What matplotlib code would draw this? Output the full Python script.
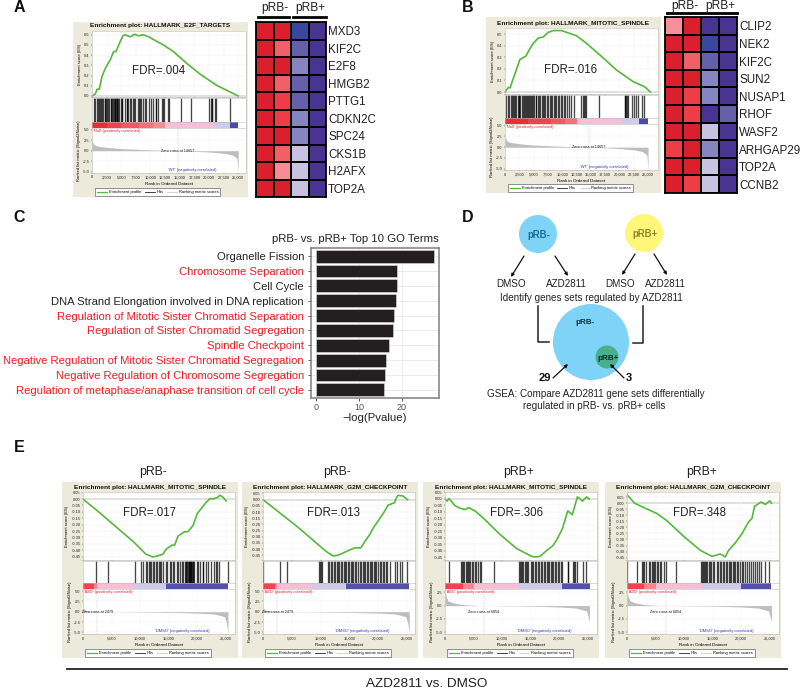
import matplotlib
matplotlib.use('Agg')
import matplotlib.pyplot as plt
from matplotlib.colors import LinearSegmentedColormap
from matplotlib.lines import Line2D
from matplotlib.patches import Circle
import numpy as np

plt.rcParams['font.family'] = ['Liberation Sans', 'DejaVu Sans']

W, H = 800, 692

# heat maps
a_genes = ['MXD3', 'KIF2C', 'E2F8', 'HMGB2', 'PTTG1', 'CDKN2C', 'SPC24', 'CKS1B', 'H2AFX', 'TOP2A']
a_heat = [[1, 1, -1, -.9], [1, .6, -.7, -.9], [1, 1, -.45, -.9], [1, .6, -.7, -.9], [1, .8, -.7, -.9],
          [1, .8, -.45, -.9], [1, 1, -.45, -.9], [1, .6, -.2, -.9], [1, .45, -.2, -.9], [1, 1, -.2, -.9]]
b_genes = ['CLIP2', 'NEK2', 'KIF2C', 'SUN2', 'NUSAP1', 'RHOF', 'WASF2', 'ARHGAP29', 'TOP2A', 'CCNB2']
b_heat = [[.4, 1, -.9, -.9], [1, 1, -1, -.9], [1, .6, -.7, -.9], [1, 1, -.45, -.9], [1, .8, -.45, -.9],
          [1, .8, -.9, -.7], [1, 1, -.2, -.9], [.8, 1, -.45, -.9], [1, 1, -.2, -.9], [1, .8, -.2, -.9]]

# GO terms
go_terms = ['Organelle Fission', 'Chromosome Separation', 'Cell Cycle',
            'DNA Strand Elongation involved in DNA replication',
            'Regulation of Mitotic Sister Chromatid Separation',
            'Regulation of Sister Chromatid Segregation', 'Spindle Checkpoint',
            'Negative Regulation of Mitotic Sister Chromatid Segregation',
            'Negative Regulation of Chromosome Segregation',
            'Regulation of metaphase/anaphase transition of cell cycle']
go_values = [27.4, 18.9, 18.8, 18.5, 18.1, 17.8, 17.0, 16.3, 16.0, 15.8]
go_red = [False, True, False, False, True, True, True, True, True, True]

# enrichment curves
a_rank = [0, 570, 850, 1250, 1700, 2270, 3125, 3700, 4090, 4720, 5280, 5680, 6530, 7270, 7950, 8800, 9660,
          11080, 12220, 13920, 16200, 18470, 21300, 25000]
a_es = [0, .02, .066, .066, .19, .27, .355, .435, .435, .52, .59, .6, .58, .605, .59, .6, .58,
        .535, .5, .435, .32, .215, .105, 0]
b_rank = [0, 600, 870, 1750, 2600, 3660, 4240, 4940, 5810, 6690, 7560, 8430, 9880, 10750, 12500, 14240,
          16570, 19480, 22380, 24420, 25400]
b_es = [0, .04, .035, .16, .28, .31, .365, .42, .465, .475, .515, .53, .53, .515, .485, .42,
        .32, .19, .09, .045, 0]
e1_rank = [0, 3000, 6000, 9000, 11000, 12200, 13000, 14000, 14600, 15600, 16050, 16650, 17800, 18400,
           19300, 20000, 20700, 21600, 22300, 22800, 23650, 24000, 24500, 25100]
e1_es = [0, -.11, -.225, -.34, -.43, -.452, -.445, -.43, -.39, -.36, -.36, -.29, -.255, -.255,
         -.205, -.115, -.075, -.025, .005, 0, .015, .03, .015, -.015]
e2_rank = [0, 3000, 6000, 9000, 11000, 12150, 13000, 14000, 14900, 15900, 17000, 17800, 18500, 19200,
           20100, 21100, 21700, 22800, 23400, 24300, 25100]
e2_es = [0, -.11, -.22, -.34, -.42, -.455, -.45, -.43, -.41, -.39, -.39, -.33, -.285, -.225,
         -.165, -.095, -.045, -.025, .035, .03, 0]
e3_rank = [0, 350, 700, 1750, 2600, 3600, 4100, 5250, 6700, 9600, 12550, 15200, 15800, 16650, 17800, 18850,
           19550, 20550, 21500, 22300, 23200, 24100, 24800, 25300]
e3_es = [-.005, -.02, 0, -.055, -.075, -.085, -.07, -.095, -.15, -.275, -.385, -.445, -.45, -.445, -.4, -.365,
         -.32, -.235, -.095, -.125, .0125, -.02, .0125, -.005]
e4_rank = [0, 1350, 2900, 5250, 7000, 9950, 12850, 14900, 16350, 17200, 17800, 18950, 20150, 21300, 21900,
           22350, 23500, 24250, 25000, 25300]
e4_es = [.07, 0, -.035, -.085, -.145, -.275, -.39, -.44, -.42, -.445, -.39, -.33, -.25, -.155, -.125,
         -.025, .01, -.01, .02, 0]

# gene set hits
a_hits = [300, 550, 800, 1050, 1150, 1400, 1600, 1750, 1900, 2150, 2300, 2450, 2600, 2750, 2850, 3200, 3300, 3450,
          3600, 3750, 3850, 4000, 4100, 4250, 4350, 4500, 4650, 4900, 5100, 5200, 5600, 5900, 6050, 6200, 6500, 6700,
          7000, 7200, 7300, 7800, 8000, 8200, 8450, 8700, 9000, 9200, 9800, 10100, 10500, 10900, 11000, 11300, 12000,
          12200, 12350, 13000, 13200, 15300, 17000, 20000, 20300, 20500, 20600, 21000, 21150, 23600]
b_hits = [250, 550, 750, 1000, 1200, 1350, 1600, 1800, 2000, 2200, 2450, 2500, 2700, 2950, 3100, 3300, 3500, 3650,
          3800, 4000, 4250, 4400, 4500, 4700, 4900, 5100, 5350, 5500, 5700, 5950, 6100, 6400, 6600, 6800, 7000, 7300,
          7500, 7800, 8000, 8200, 8500, 8700, 9000, 9200, 9500, 9800, 10000, 10300, 10500, 10800, 11200, 11500, 12000,
          13300, 13600, 13800, 14000, 14200, 16450, 20900, 21000, 21200, 21350, 21500, 22200, 22600, 22900, 23300,
          24000, 24300]
e1_hits = [2300, 4400, 9100, 10200, 10500, 11000, 11300, 11500, 11800, 12000, 12300, 12500, 12800, 13000, 13300,
           13500, 13700, 14000, 14500, 14800, 15300, 15500, 15800, 16000, 16400, 16700, 17000, 17300, 17500, 17800,
           18000, 18100, 18300, 18400, 18500, 18600, 18700, 18800, 18900, 19000, 19100, 19200, 19300, 19500, 20000,
           20200, 20500, 21000, 21100, 21500, 21900, 22500, 22900, 23300, 23500, 23800, 25400]
e2_hits = [50, 2950, 4150, 9800, 9950, 10100, 10250, 11300, 11500, 11800, 12000, 12300, 12500, 12800, 13000, 13200,
           13500, 13800, 14000, 14200, 14500, 14700, 15000, 15300, 15500, 15700, 16000, 16200, 16500, 16800, 17000,
           17300, 17500, 17700, 18000, 18200, 18500, 18700, 19000, 19200, 19500, 19700, 20000, 20300, 20500, 20800,
           21000, 21300, 21500, 22000, 23000, 23200, 23800, 24200, 25000]
e3_hits = [700, 2800, 2950, 3100, 3300, 3700, 3800, 4000, 4200, 4400, 4700, 4900, 5200, 5500, 5700, 6100, 6300, 8650,
           13050, 13150, 13300, 13500, 13700, 14000, 14200, 14400, 14600, 15000, 15200, 15500, 15700, 16000, 16300,
           16500, 16800, 17000, 17300, 17600, 17800, 18000, 18300, 18500, 18700, 19000, 19200, 19500, 19800, 20000,
           20300, 20500, 21500, 21600, 22400, 22600, 22800, 23100, 24200, 24700]
e4_hits = [50, 1750, 2600, 2750, 3000, 3300, 3800, 4100, 4300, 4500, 4700, 4900, 5200, 5500, 5700, 6000, 6500, 6900,
           8600, 13000, 13100, 13300, 13500, 13600, 13800, 14000, 14300, 14500, 14700, 15000, 15300, 15700, 16000,
           16300, 16500, 16800, 17000, 17300, 17500, 17800, 18000, 18200, 18500, 18800, 19000, 19300, 19500, 19800,
           20200, 20400, 20700, 21000, 21300, 21800, 22100, 22500, 22800, 23100, 23400, 24100, 24800]

# correlation band: right end of each segment
a_band = [2500, 5000, 8000, 10500, 12500, 20700, 23600, 25000]
a_band_c = ['#E5303A', '#EA444D', '#EE5962', '#F1727B', '#F48C94', '#F6BFD6', '#CFCBE6', '#4A4BA5']
b_band = [4000, 8000, 10500, 12500, 20500, 23500, 25000]
b_band_c = ['#E5303A', '#EA444D', '#EE5962', '#F1727B', '#F6BFD6', '#CFCBE6', '#4A4BA5']
e1_band = [2000, 2400, 8700, 14500, 25400]
e2_band = [2000, 2400, 8500, 14500, 25400]
e3_band = [3200, 5000, 13000, 20500, 25400]
e4_band = [3000, 5000, 13000, 20000, 25300]
e_band_c = ['#EE4450', '#F6858E', '#F6BFD6', '#CFCBE6', '#5551A8']

# ranked list metric
a_metric_x = [0, 200, 500, 1000, 2500, 5000, 7500, 10000, 12500, 14657, 17500, 20000, 22500, 24000, 24800, 25000]
a_metric_y = [2.6, 1.7, 1.3, 1.1, .8, .5, .35, .2, .1, 0, -.15, -.3, -.6, -1, -1.8, -5]
e_low_x = [0, 500, 1500, 2479, 8500, 12000, 16000, 20000, 23000, 24800, 25100, 25400]
e_low_y = [.9, .3, .1, 0, -.06, -.12, -.2, -.33, -.55, -1.2, -2.5, -5]
e_high_x = [0, 500, 1500, 3000, 5000, 6854, 10000, 15000, 20000, 23000, 24800, 25300]
e_high_y = [2.4, .9, .5, .2, .05, 0, -.03, -.1, -.25, -.45, -1, -3]

es_ticks_a = [0, .1, .2, .3, .4, .5, .6]
es_ticks_b = [0, .1, .2, .3, .4, .5]
es_ticks_e = [.05, 0, -.05, -.1, -.15, -.2, -.25, -.3, -.35, -.4, -.45]

BEIGE = '#ECEADB'
GREEN = '#55B83A'
fig = plt.figure(figsize=(W / 100, H / 100), dpi=100, facecolor='white')


def px_axes(x0, y0, x1, y1, **kw):
    return fig.add_axes([x0 / W, 1 - y1 / H, (x1 - x0) / W, (y1 - y0) / H], **kw)


def style_small(ax):
    ax.tick_params(labelsize=2.9, length=1, width=.3, pad=.8, colors='#222222')
    for s in ax.spines.values():
        s.set_linewidth(.4)
        s.set_color('#bbbbbb')


def gsea(box, plot, title, rank, es, es_lim, es_ticks, es_fmt, hits, band, band_c, mx, my, m_lim, m_ticks,
         zero, zero_y, pos_name, neg_name, xmax, xticks):
    x0, y0, x1, y1 = box
    left, right, t1, t2, t3, t4, t5 = plot
    bg = px_axes(x0, y0, x1, y1)
    bg.set_facecolor(BEIGE)
    bg.set_xticks([])
    bg.set_yticks([])
    for s in bg.spines.values():
        s.set_visible(False)
    fig.text((x0 + x1) / 2 / W, 1 - (t1 - 5) / H, title, ha='center', va='center', fontsize=4.65, fontweight='bold',
             color='#111111')

    ax = px_axes(left, t1, right, t2)
    ax.plot(rank, es, color=GREEN, lw=1.2)
    ax.axhline(0, color='#d5d5d5', lw=1.2, zorder=0)
    ax.set_xlim(0, xmax)
    ax.set_ylim(*es_lim)
    ax.set_yticks(es_ticks)
    ax.set_yticklabels([es_fmt.format(v) for v in es_ticks])
    ax.set_xticks(xticks)
    ax.tick_params(axis='x', length=0, labelbottom=False)
    ax.grid(color='#f0f0f0', lw=.3)
    ax.set_axisbelow(True)
    style_small(ax)
    ax.set_ylabel('Enrichment score (ES)', fontsize=3, labelpad=1.5)

    hx = px_axes(left, t2 + 1, right, t3)
    hx.vlines(hits, 0, 1, color='black', lw=.95, alpha=.72)
    hx.set_xlim(0, xmax)
    hx.set_ylim(0, 1)
    hx.set_xticks([])
    hx.set_yticks([])
    style_small(hx)

    bd = px_axes(left, t3, right, t4)
    start = 0
    for end, c in zip(band, band_c):
        bd.axvspan(start, end, color=c, lw=0)
        start = end
    bd.set_xlim(0, xmax)
    bd.set_ylim(0, 1)
    bd.set_xticks([])
    bd.set_yticks([])
    style_small(bd)

    rx = px_axes(left, t4, right, t5)
    rx.fill_between(mx, my, 0, color='#bdbdbd', lw=0)
    rx.axvline(zero, color='#aaaaaa', lw=.35, ls=(0, (2, 2)), ymax=.98)
    rx.set_xlim(0, xmax)
    rx.set_ylim(*m_lim)
    rx.set_yticks(m_ticks)
    rx.set_yticklabels(['{:.1f}'.format(v) for v in m_ticks])
    rx.set_xticks(xticks)
    rx.set_xticklabels(['{:,}'.format(v) for v in xticks])
    rx.grid(color='#f4f4f4', lw=.3)
    rx.set_axisbelow(True)
    style_small(rx)
    rx.set_xlabel('Rank in Ordered Dataset', fontsize=3.2, labelpad=1.5)
    rx.set_ylabel('Ranked list metric (Signal2Noise)', fontsize=3, labelpad=1.5)
    rx.text(xmax * .005, m_lim[1] - (m_lim[1] - m_lim[0]) * .015, "'%s' (positively correlated)" % pos_name,
            color='#e8202a', fontsize=2.9, va='top')
    rx.text(xmax * .65, m_lim[0] + (m_lim[1] - m_lim[0]) * .02, "'%s' (negatively correlated)" % neg_name,
            color='#3333bb', fontsize=2.9, va='bottom', ha='center')
    rx.text(zero, zero_y, 'Zero cross at %d' % zero, fontsize=2.7, ha='center', va='center', color='#111111')

    leg = fig.legend(handles=[Line2D([], [], color=GREEN, lw=.9, label='Enrichment profile'),
                              Line2D([], [], color='#222222', lw=.6, label='Hits'),
                              Line2D([], [], color='#cccccc', lw=.6, label='Ranking metric scores')],
                     loc='center', bbox_to_anchor=(((left + right) / 2 - 11) / W, 1 - (y1 - 5) / H), ncol=3,
                     fontsize=2.9, frameon=True, fancybox=False, edgecolor='#666666', facecolor='white',
                     framealpha=1, handlelength=2.5, columnspacing=.9, handletextpad=.4, borderpad=.5)
    leg.get_frame().set_linewidth(.5)
    return ax


def heat(box, values, genes):
    cmap = LinearSegmentedColormap.from_list('rb', [(0, '#3B479F'), (.05, '#4A3391'), (.15, '#6460AC'),
                                                    (.275, '#8585C1'), (.4, '#C8C2E1'), (.72, '#F98E98'),
                                                    (.8, '#F25F68'), (.9, '#EF3E48'), (1, '#DB1F2D')])
    ax = px_axes(*box)
    ax.pcolormesh(np.array(values), cmap=cmap, vmin=-1, vmax=1, edgecolors='black', linewidth=1.1)
    ax.invert_yaxis()
    ax.set_xticks([])
    ax.yaxis.tick_right()
    ax.set_yticks(np.arange(len(genes)) + .5)
    ax.set_yticklabels(genes, fontsize=8.4, color='#222222')
    ax.tick_params(axis='y', length=0, pad=1.5)
    for s in ax.spines.values():
        s.set_linewidth(1.3)
    return ax


# A
gsea((73, 22, 248, 197), (92, 245.5, 31, 97, 122, 128, 173), 'Enrichment plot: HALLMARK_E2F_TARGETS',
     a_rank, a_es, (-.01, .637), es_ticks_a, '{:.1f}', a_hits, a_band, a_band_c, a_metric_x, a_metric_y,
     (-5.3, 5.4), [5, 2.5, 0, -2.5, -5], 14657, 0, 'Null', 'WT', 26250, list(range(0, 25001, 2500)))
heat((256, 22, 326, 197), a_heat, a_genes)

# B
gsea((486, 17, 661, 193), (505, 658, 28, 94, 118, 124, 170), 'Enrichment plot: HALLMARK_MITOTIC_SPINDLE',
     b_rank, b_es, (-.017, .552), es_ticks_b, '{:.1f}', b_hits, b_band, b_band_c, a_metric_x, a_metric_y,
     (-5.3, 5.4), [5, 2.5, 0, -2.5, -5], 14657, 0, 'Null', 'WT', 26740, list(range(0, 25001, 2500)))
heat((665, 17, 737, 193), b_heat, b_genes)

# E
etick = list(range(0, 25001, 5000))
gsea((62, 482, 238, 658), (83, 235, 492, 560, 583, 589, 634), 'Enrichment plot: HALLMARK_MITOTIC_SPINDLE',
     e1_rank, e1_es, (-.476, .055), es_ticks_e, '{:.2f}', e1_hits, e1_band, e_band_c, e_low_x, e_low_y,
     (-5.4, 5.5), [5, 2.5, 0, -2.5, -5], 2479, 0, 'AZD', 'DMSO', 26630, etick)
gsea((242, 482, 418, 658), (263, 415, 492, 560, 583, 589, 634), 'Enrichment plot: HALLMARK_G2M_CHECKPOINT',
     e2_rank, e2_es, (-.488, .062), es_ticks_e, '{:.2f}', e2_hits, e2_band, e_band_c, e_low_x, e_low_y,
     (-5.4, 5.5), [5, 2.5, 0, -2.5, -5], 2479, 0, 'AZD', 'DMSO', 26400, etick)
gsea((423, 482, 599, 658), (445, 597, 492, 560, 583, 589, 634), 'Enrichment plot: HALLMARK_MITOTIC_SPINDLE',
     e3_rank, e3_es, (-.473, .045), es_ticks_e, '{:.2f}', e3_hits, e3_band, e_band_c, e_high_x, e_high_y,
     (-5.3, 3.1), [2.5, 0, -2.5, -5], 6854, -1.15, 'AZD', 'DMSO', 26630, etick)
gsea((605, 482, 781, 658), (627, 779, 492, 560, 583, 589, 634), 'Enrichment plot: HALLMARK_G2M_CHECKPOINT',
     e4_rank, e4_es, (-.47, .093), es_ticks_e, '{:.2f}', e4_hits, e4_band, e_band_c, e_high_x, e_high_y,
     (-5.3, 3.1), [2.5, 0, -2.5, -5], 6854, -1.15, 'AZD', 'DMSO', 26630, etick)

# C
ax = px_axes(311, 248, 439, 398)
pos = np.arange(len(go_terms))
ax.barh(pos, go_values, height=.86, color='#231F20', edgecolor='#dddddd', linewidth=.4, zorder=3)
ax.set_ylim(9.55, -.55)
ax.set_xlim(-1.16, 28.6)
ax.set_yticks(pos)
ax.set_yticklabels(go_terms, fontsize=8.1)
for lab, red in zip(ax.get_yticklabels(), go_red):
    lab.set_color('#ED1C24' if red else '#222222')
ax.set_xticks([0, 10, 20])
ax.tick_params(axis='y', length=2, width=.7, color='#555555', pad=3)
ax.tick_params(axis='x', length=2, width=.7, color='#555555', labelsize=6.5, labelcolor='#555555', pad=1.5)
ax.grid(color='#ebebeb', lw=.7, zorder=0)
for s in ax.spines.values():
    s.set_linewidth(1.1)
    s.set_color('#7f7f7f')
ax.set_xlabel('\u2212log(Pvalue)', fontsize=8.2, color='#222222', labelpad=1)

# overlay for labels and panel D, in reference pixels
ov = fig.add_axes([0, 0, 1, 1], facecolor='none')
ov.set_xlim(0, W)
ov.set_ylim(H, 0)
ov.axis('off')

ov.text(439, 239, 'pRB- vs. pRB+ Top 10 GO Terms', fontsize=8.2, ha='right', va='center', color='#222222')

for x, y, s in [(19, 7, 'A'), (468, 7, 'B'), (19, 218, 'C'), (468, 218, 'D'), (19, 448, 'E')]:
    ov.text(x, y, s, fontsize=11.5, fontweight='bold', ha='center', va='center', color='#111111')

# heat map headers
for x, y, s in [(275, 8, 'pRB-'), (310, 8, 'pRB+'), (685, 6, 'pRB-'), (720, 6, 'pRB+')]:
    ov.text(x, y, s, fontsize=8.6, ha='center', va='center', color='#222222')
for xa, xb, y in [(258, 289, 17), (293, 326, 17), (667, 700, 13), (702, 737, 13)]:
    ov.plot([xa, xb], [y, y], color='black', lw=2)

# FDR labels
for x, y, s in [(159, 71, '.004'), (571, 70, '.016'), (150, 513, '.017'), (333, 513, '.013'),
                (517, 513, '.306'), (699, 513, '.348')]:
    ov.text(x, y, 'FDR=' + s, fontsize=8.3, ha='center', va='center', color='#222222')

# E headers and rule
for x, s in [(153, 'pRB-'), (337, 'pRB-'), (519, 'pRB+'), (702, 'pRB+')]:
    ov.text(x, 472, s, fontsize=8.8, ha='center', va='center', color='#222222')
ov.plot([67, 787], [669, 669], color='#222222', lw=1.3)
ov.text(427, 684, 'AZD2811 vs. DMSO', fontsize=9.7, ha='center', va='center', color='#222222')

# D
for xy, r, c in [((538, 234), 19, '#7FD3F7'), ((644, 233), 19, '#FFF67A'), ((591, 342), 38, '#7FD3F7'),
                 ((607, 357), 11.5, '#46B08F')]:
    ov.add_patch(Circle(xy, r, color=c, lw=0))
ov.text(539, 235, 'pRB-', fontsize=6.9, fontweight='bold', ha='center', va='center', color='#1B6F92')
ov.text(645, 234, 'pRB+', fontsize=6.9, fontweight='bold', ha='center', va='center', color='#8C8A1E')
ov.text(585, 323, 'pRB-', fontsize=5.9, fontweight='bold', ha='center', va='center', color='#10303f')
ov.text(608, 358, 'pRB+', fontsize=5.9, fontweight='bold', ha='center', va='center', color='#0c2a20')
for a, b in [((524, 256), (511, 277)), ((555, 256), (568, 276)), ((635, 254), (622, 275)), ((654, 254), (667, 275)),
             ((553, 378), (568, 364)), ((624, 378), (610, 364))]:
    ov.annotate('', xy=b, xytext=a, arrowprops=dict(arrowstyle='-|>', color='#111111', lw=.9, mutation_scale=4.5,
                                                    shrinkA=0, shrinkB=0))
for x, y, s in [(511, 284, 'DMSO'), (566, 284, 'AZD2811'), (620, 284, 'DMSO'), (665, 284, 'AZD2811')]:
    ov.text(x, y, s, fontsize=7.1, ha='center', va='center', color='#222222')
ov.text(591, 298, 'Identify genes sets regulated by AZD2811', fontsize=7.1, ha='center', va='center', color='#222222')
ov.plot([538, 538, 549], [306, 342, 342], color='#222222', lw=1.1)
ov.plot([643, 643, 633], [306, 343, 343], color='#222222', lw=1.1)
ov.text(545, 378, '29', fontsize=8, fontweight='bold', ha='center', va='center', color='#111111')
ov.text(629, 378, '3', fontsize=8, fontweight='bold', ha='center', va='center', color='#111111')
ov.text(596, 394, 'GSEA: Compare AZD2811 gene sets differentially', fontsize=7.1, ha='center', va='center',
        color='#222222')
ov.text(594, 406, 'regulated in pRB- vs. pRB+ cells', fontsize=7.1, ha='center', va='center', color='#222222')

fig.savefig('out.png', dpi=100)
